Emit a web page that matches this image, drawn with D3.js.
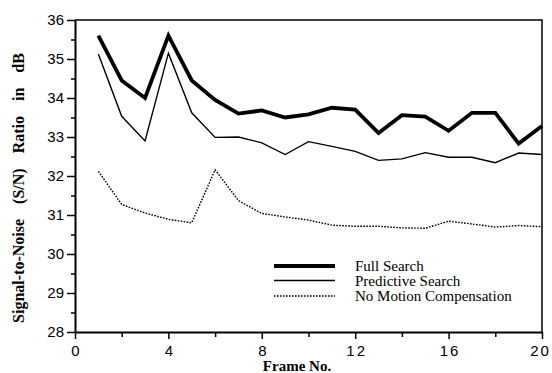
<!DOCTYPE html>
<html>
<head>
<meta charset="utf-8">
<script src="https://cdn.jsdelivr.net/npm/d3@7"></script>
<style>
  body { margin: 0; background: #fff; }
  svg { display: block; }
</style>
</head>
<body>
<svg id="chart"></svg>
<script>
// data
const frames = d3.range(1, 21);
const fullSearch = [35.6, 34.45, 34.0, 35.6, 34.45, 33.95, 33.6, 33.68, 33.5, 33.58,
                    33.75, 33.7, 33.1, 33.56, 33.52, 33.16, 33.62, 33.62, 32.83, 33.28];
const predictiveSearch = [35.13, 33.53, 32.9, 35.15, 33.62, 32.99, 33.0, 32.85, 32.55, 32.88,
                          32.76, 32.63, 32.4, 32.44, 32.6, 32.48, 32.48, 32.34, 32.59, 32.55];
const noMotion = [32.12, 31.27, 31.05, 30.89, 30.8, 32.16, 31.37, 31.04, 30.95, 30.87,
                  30.74, 30.71, 30.71, 30.67, 30.66, 30.84, 30.77, 30.69, 30.73, 30.7];
const yTicks = [28, 29, 30, 31, 32, 33, 34, 35, 36];
const xTicks = [0, 4, 8, 12, 16, 20];
const legendNames = ["Full Search", "Predictive Search", "No Motion Compensation"];

const w = 552, h = 373;
const svg = d3.select("#chart").attr("width", w).attr("height", h);

const x = d3.scaleLinear().domain([0, 20]).range([75, 542]);
const y = d3.scaleLinear().domain([28, 36]).range([332, 20]);

// frame (top + right)
svg.append("path")
   .attr("d", `M${x(0)},${y(36)}H${x(20)}V${y(28)}`)
   .attr("fill", "none").attr("stroke", "#000").attr("stroke-width", 1.5);

// y axis
const yAxis = svg.append("g")
   .attr("transform", `translate(${x(0)},0)`)
   .call(d3.axisLeft(y).tickValues(yTicks).tickSize(8).tickSizeOuter(0).tickPadding(3));
yAxis.select(".domain").attr("stroke-width", 2);
yAxis.selectAll(".tick line").attr("stroke-width", 1.5);
yAxis.selectAll("text")
     .style("font-family", "'Liberation Sans', Arial, sans-serif")
     .style("font-size", "15px").attr("fill", "#000");
svg.append("g")
   .attr("transform", `translate(${x(0)},0)`)
   .call(d3.axisLeft(y).tickValues(d3.range(28.5, 36, 1)).tickSize(4).tickFormat(""))
   .call(g => g.select(".domain").remove())
   .selectAll("line").attr("stroke-width", 1.5);

// x axis
const xAxis = svg.append("g")
   .attr("transform", `translate(0,${y(28)})`)
   .call(d3.axisBottom(x).tickValues(xTicks).tickSize(7).tickSizeOuter(0).tickPadding(6));
xAxis.select(".domain").attr("stroke-width", 2);
xAxis.selectAll(".tick line").attr("stroke-width", 1.5);
xAxis.selectAll("text")
     .style("font-family", "'Liberation Sans', Arial, sans-serif")
     .style("font-size", "15px").style("letter-spacing", "2px").attr("fill", "#000")
     .attr("dx", d => d === 20 ? -2 : 1);
svg.append("g")
   .attr("transform", `translate(0,${y(28)})`)
   .call(d3.axisBottom(x).tickValues(d3.range(2, 20, 4)).tickSize(5).tickFormat(""))
   .call(g => g.select(".domain").remove())
   .selectAll("line").attr("stroke-width", 1.5);

// axis titles
svg.append("text")
   .attr("x", 297).attr("y", 371)
   .attr("text-anchor", "middle")
   .style("font-family", "'Liberation Serif', 'Times New Roman', serif")
   .style("font-weight", "bold").style("font-size", "15px")
   .text("Frame No.");

svg.append("text")
   .attr("transform", "translate(24,188) rotate(-90)")
   .attr("text-anchor", "middle")
   .style("font-family", "'Liberation Serif', 'Times New Roman', serif")
   .style("font-weight", "bold").style("font-size", "16px")
   .style("word-spacing", "11px")
   .text("Signal-to-Noise (S/N) Ratio in dB");

// series
const series = [
  { values: fullSearch, width: 3.8, dash: null },
  { values: predictiveSearch, width: 1.4, dash: null },
  { values: noMotion, width: 1.4, dash: "1.6,1.4" }
];
const line = d3.line().x((d, i) => x(frames[i])).y(d => y(d));

svg.selectAll(".series")
   .data(series)
   .enter()
   .append("path")
   .attr("class", "series")
   .attr("d", d => line(d.values))
   .attr("fill", "none")
   .attr("stroke", "#000")
   .attr("stroke-width", d => d.width)
   .attr("stroke-linejoin", "miter")
   .attr("stroke-dasharray", d => d.dash);

// legend
const legendLineY = [266, 280.5, 296];
const legend = svg.selectAll(".legend")
   .data(series)
   .enter()
   .append("g")
   .attr("class", "legend");

legend.append("line")
   .attr("x1", 274).attr("x2", 335)
   .attr("y1", (d, i) => legendLineY[i]).attr("y2", (d, i) => legendLineY[i])
   .attr("stroke", "#000")
   .attr("stroke-width", d => d.width)
   .attr("stroke-dasharray", d => d.dash);

legend.append("text")
   .attr("x", 355)
   .attr("y", (d, i) => legendLineY[i] + 5)
   .style("font-family", "'Liberation Serif', 'Times New Roman', serif")
   .style("font-size", "15px")
   .text((d, i) => legendNames[i]);
</script>
</body>
</html>
